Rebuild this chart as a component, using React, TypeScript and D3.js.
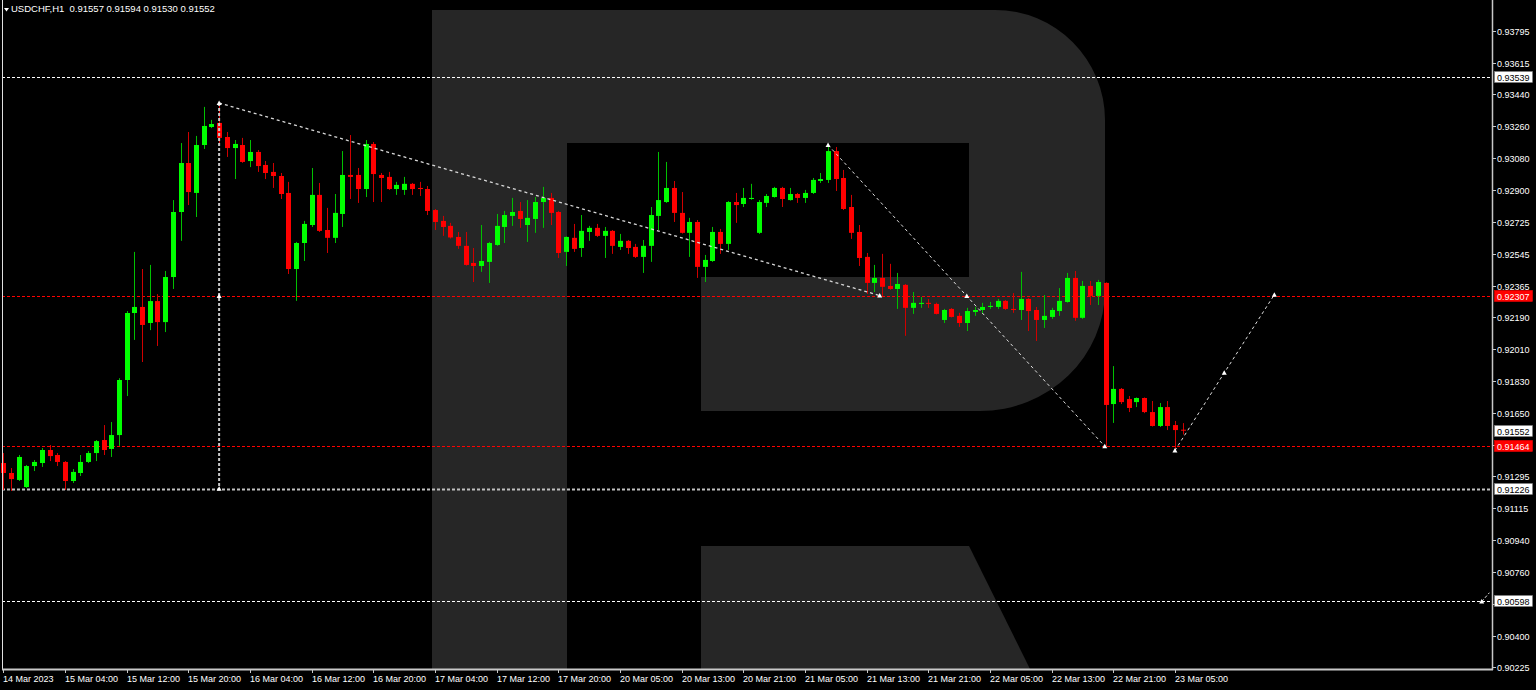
import React from "react";
import * as d3 from "d3";

const symbolTitle = "USDCHF,H1  0.91557 0.91594 0.91530 0.91552";

const opens = [0.91370,0.91314,0.91275,0.91235,0.91353,0.91370,0.91443,0.91415,0.91376,0.91269,0.91314,0.91376,0.91426,0.91499,0.91449,0.91527,0.91836,0.92212,0.92246,0.92156,0.92279,0.92161,0.92414,0.92779,0.93054,0.92886,0.93155,0.93256,0.93279,0.93200,0.93138,0.93155,0.93065,0.93116,0.93043,0.93004,0.92981,0.92886,0.92459,0.92605,0.92706,0.92875,0.92678,0.92634,0.92768,0.92987,0.92987,0.92908,0.93161,0.92987,0.92976,0.92908,0.92903,0.92937,0.92914,0.92908,0.92790,0.92729,0.92701,0.92639,0.92589,0.92493,0.92476,0.92499,0.92594,0.92695,0.92757,0.92785,0.92706,0.92740,0.92835,0.92858,0.92779,0.92555,0.92634,0.92577,0.92667,0.92690,0.92645,0.92673,0.92583,0.92617,0.92583,0.92527,0.92589,0.92757,0.92835,0.92914,0.92774,0.92662,0.92723,0.92471,0.92504,0.92667,0.92600,0.92835,0.92824,0.92852,0.92662,0.92830,0.92863,0.92914,0.92846,0.92880,0.92858,0.92886,0.92953,0.92959,0.93121,0.92970,0.92807,0.92667,0.92527,0.92381,0.92409,0.92364,0.92347,0.92370,0.92241,0.92263,0.92269,0.92263,0.92173,0.92235,0.92196,0.92156,0.92218,0.92229,0.92246,0.92246,0.92280,0.92235,0.92229,0.92291,0.92229,0.92173,0.92190,0.92223,0.92274,0.92409,0.92185,0.92364,0.92308,0.92381,0.91701,0.91786,0.91729,0.91712,0.91735,0.91656,0.91578,0.91684,0.91583,0.91557];
const highs = [0.91426,0.91342,0.91415,0.91359,0.91387,0.91454,0.91471,0.91426,0.91381,0.91336,0.91415,0.91437,0.91499,0.91583,0.91600,0.91846,0.92223,0.92555,0.92459,0.92482,0.92318,0.92448,0.92846,0.93166,0.93228,0.93206,0.93369,0.93296,0.93391,0.93228,0.93183,0.93195,0.93183,0.93127,0.93065,0.93054,0.92998,0.92948,0.92611,0.92729,0.93026,0.92942,0.92802,0.92880,0.93121,0.93211,0.93026,0.93183,0.93172,0.92998,0.93004,0.92948,0.92976,0.92942,0.92948,0.92925,0.92796,0.92757,0.92718,0.92667,0.92667,0.92577,0.92706,0.92611,0.92768,0.92785,0.92858,0.92835,0.92846,0.92863,0.92920,0.92886,0.92785,0.92642,0.92712,0.92762,0.92701,0.92712,0.92695,0.92678,0.92656,0.92622,0.92600,0.92622,0.92807,0.93116,0.93060,0.92953,0.92891,0.92746,0.92734,0.92538,0.92695,0.92684,0.92840,0.92886,0.92914,0.92937,0.92846,0.92880,0.92920,0.92920,0.92914,0.92886,0.92903,0.92970,0.92998,0.93155,0.93144,0.93015,0.92875,0.92706,0.92549,0.92482,0.92544,0.92488,0.92437,0.92375,0.92330,0.92302,0.92291,0.92270,0.92235,0.92240,0.92213,0.92241,0.92246,0.92269,0.92274,0.92291,0.92285,0.92324,0.92443,0.92296,0.92246,0.92313,0.92241,0.92352,0.92437,0.92448,0.92392,0.92392,0.92398,0.92384,0.91914,0.91791,0.91746,0.91738,0.91738,0.91718,0.91707,0.91718,0.91606,0.91594];
const lows = [0.91219,0.91213,0.91269,0.91230,0.91325,0.91348,0.91381,0.91353,0.91219,0.91258,0.91297,0.91370,0.91381,0.91415,0.91404,0.91466,0.91746,0.92061,0.91937,0.92116,0.92027,0.92105,0.92347,0.92617,0.92818,0.92751,0.93133,0.93250,0.93166,0.93088,0.92964,0.93055,0.93031,0.93004,0.92964,0.92914,0.92852,0.92431,0.92280,0.92504,0.92695,0.92667,0.92549,0.92605,0.92695,0.92852,0.92830,0.92863,0.92835,0.92835,0.92903,0.92875,0.92875,0.92875,0.92869,0.92762,0.92678,0.92645,0.92630,0.92572,0.92478,0.92386,0.92443,0.92381,0.92589,0.92605,0.92701,0.92690,0.92611,0.92662,0.92690,0.92706,0.92521,0.92476,0.92555,0.92527,0.92617,0.92639,0.92521,0.92544,0.92566,0.92544,0.92521,0.92437,0.92499,0.92678,0.92830,0.92723,0.92658,0.92527,0.92409,0.92386,0.92499,0.92544,0.92566,0.92718,0.92807,0.92848,0.92656,0.92807,0.92860,0.92807,0.92843,0.92830,0.92830,0.92880,0.92942,0.92942,0.92897,0.92790,0.92628,0.92476,0.92319,0.92330,0.92308,0.92342,0.92235,0.92084,0.92207,0.92241,0.92241,0.92204,0.92156,0.92187,0.92134,0.92111,0.92196,0.92207,0.92235,0.92235,0.92229,0.92213,0.92173,0.92111,0.92055,0.92128,0.92179,0.92196,0.92270,0.92168,0.92179,0.92257,0.92257,0.91464,0.91595,0.91701,0.91656,0.91684,0.91650,0.91575,0.91572,0.91555,0.91432,0.91530];
const closes = [0.91314,0.91280,0.91404,0.91353,0.91376,0.91443,0.91409,0.91376,0.91269,0.91320,0.91376,0.91426,0.91493,0.91443,0.91527,0.91836,0.92212,0.92246,0.92145,0.92279,0.92161,0.92414,0.92779,0.93054,0.92891,0.93155,0.93262,0.93273,0.93195,0.93138,0.93161,0.93060,0.93116,0.93037,0.92998,0.92981,0.92880,0.92459,0.92605,0.92712,0.92875,0.92673,0.92634,0.92774,0.92987,0.92976,0.92908,0.93161,0.92992,0.92970,0.92908,0.92931,0.92937,0.92908,0.92908,0.92785,0.92723,0.92695,0.92636,0.92589,0.92482,0.92476,0.92504,0.92605,0.92701,0.92762,0.92779,0.92740,0.92746,0.92835,0.92858,0.92774,0.92549,0.92639,0.92572,0.92673,0.92690,0.92645,0.92673,0.92589,0.92617,0.92577,0.92527,0.92589,0.92762,0.92846,0.92914,0.92774,0.92662,0.92723,0.92471,0.92510,0.92667,0.92600,0.92835,0.92818,0.92858,0.92858,0.92835,0.92869,0.92914,0.92852,0.92880,0.92858,0.92886,0.92959,0.92964,0.93121,0.92964,0.92796,0.92662,0.92521,0.92381,0.92409,0.92359,0.92347,0.92375,0.92241,0.92269,0.92269,0.92263,0.92207,0.92229,0.92190,0.92156,0.92223,0.92229,0.92246,0.92252,0.92280,0.92235,0.92229,0.92291,0.92223,0.92173,0.92196,0.92229,0.92280,0.92409,0.92185,0.92364,0.92308,0.92386,0.91696,0.91786,0.91712,0.91679,0.91735,0.91656,0.91578,0.91684,0.91578,0.91555,0.91552];

// time axis: bar index -> label
const timeTickIdx = [0, 8, 16, 24, 32, 40, 48, 56, 64, 72, 80, 88, 96, 104, 112, 120, 128, 136, 144, 152];
const timeTickLabels = ["14 Mar 2023","15 Mar 04:00","15 Mar 12:00","15 Mar 20:00","16 Mar 04:00","16 Mar 12:00","16 Mar 20:00","17 Mar 04:00","17 Mar 12:00","17 Mar 20:00","20 Mar 05:00","20 Mar 13:00","20 Mar 21:00","21 Mar 05:00","21 Mar 13:00","21 Mar 21:00","22 Mar 05:00","22 Mar 13:00","22 Mar 21:00","23 Mar 05:00"];

// price axis ticks (labels hidden under level boxes are marks only)
const priceTicks = [0.93795,0.93615,0.93440,0.93260,0.93080,0.92900,0.92725,0.92545,0.92365,0.92190,0.92010,0.91830,0.91650,0.91470,0.91295,0.91115,0.90940,0.90760,0.90580,0.90400,0.90225];
const hiddenTickLabels = [0.91470, 0.90580];

// horizontal levels
const levelPrices = [0.93539, 0.92307, 0.91464, 0.91226, 0.90598];
const levelKinds = ["white", "red", "red", "gray", "white"];
const currentPrice = 0.91552;

// analysis lines: [barIndex, price]
const trendLine1 = [[28, 0.93391], [113.7, 0.92310]];
const verticalLine = [[28, 0.93391], [28, 0.91226]];
const verticalMid = [28, 0.92307];
const trendLine2 = [[107, 0.93155], [125, 0.92307], [142.9, 0.91464]];
const forecastLine = [[152, 0.91440], [158.4, 0.91876], [164.9, 0.92315]];
const tinyLine = [[191.8, 0.90592], [192.8, 0.90642]];

const W = 1536, H = 690;
const plotRight = 1493;
const plotBottom = 669;

export default function App() {
  const x = d3.scaleLinear().domain([0, 153]).range([3.3, 3.3 + 153 * 7.708]);
  const y = d3.scaleLinear().domain([0.93795, 0.90225]).range([31, 667]);
  const font = "'Liberation Sans', Arial, sans-serif";
  const line = d3.line<number[]>().x((d) => x(d[0])).y((d) => y(d[1]));

  const bars = opens.map((o, i) => ({ i, o, h: highs[i], l: lows[i], c: closes[i] }));

  const marker = (px: number, py: number, key: string) => (
    <path key={key} d={`M${px - 2.5},${py + 2} L${px},${py - 2.5} L${px + 2.5},${py + 2} Z`} fill="#ffffff" />
  );

  const wm = "#262626";
  const bowl = `M567,10 H995 A110,110 0 0 1 1105,120 V290 A125,121 0 0 1 980,411 H701 V277 H969 V143 H567 Z`;

  const levelColor = (k: string) => (k === "red" ? "#ff0000" : k === "gray" ? "#c0c0c0" : "#ffffff");

  return (
    <svg width={W} height={H} style={{ position: "absolute", left: 0, top: 0, display: "block" }} fontFamily={font}>
      <rect x={0} y={0} width={W} height={H} fill="#000000" />
      {/* watermark */}
      <rect x={432} y={10} width={135} height={659} fill={wm} />
      <path d={bowl} fill={wm} />
      <path d="M701,546 H969 L1030,669 H701 Z" fill={wm} />

      {/* horizontal levels */}
      {levelPrices.map((p, k) => (
        <line key={"lv" + k} x1={2} x2={plotRight} y1={Math.round(y(p)) + 0.5} y2={Math.round(y(p)) + 0.5}
          stroke={levelColor(levelKinds[k])} strokeWidth={levelKinds[k] === "gray" ? 2 : 1} strokeDasharray="3,2" />
      ))}

      {/* candles */}
      {bars.map((b) => {
        const cx = Math.round(x(b.i));
        const up = b.c >= b.o;
        const body = up ? "#00ff00" : "#ff0000";
        const wick = up ? "#00c000" : "#d00000";
        const yt = y(Math.max(b.o, b.c));
        const yb = y(Math.min(b.o, b.c));
        const bh = Math.max(1, yb - yt);
        return (
          <g key={"c" + b.i}>
            <line x1={cx + 0.5} x2={cx + 0.5} y1={y(b.h)} y2={y(b.l)} stroke={wick} strokeWidth={1} />
            <rect x={cx - 2} y={yt} width={5} height={bh} fill={body} />
          </g>
        );
      })}

      {/* analysis lines */}
      <path d={line(trendLine1 as any) || ""} fill="none" stroke="#d8d8d8" strokeWidth={1.3} strokeDasharray="3,3" />
      <path d={line(verticalLine as any) || ""} fill="none" stroke="#c8c8c8" strokeWidth={2} strokeDasharray="3,2" />
      <path d={line(trendLine2 as any) || ""} fill="none" stroke="#e0e0e0" strokeWidth={1} strokeDasharray="3,3" />
      <path d={line(forecastLine as any) || ""} fill="none" stroke="#e0e0e0" strokeWidth={1} strokeDasharray="3,3" />
      <path d={line(tinyLine as any) || ""} fill="none" stroke="#e0e0e0" strokeWidth={1} strokeDasharray="3,2" />
      {marker(x(trendLine1[0][0]), y(trendLine1[0][1]), "m1")}
      {marker(x(trendLine1[1][0]), y(trendLine1[1][1]), "m2")}
      {marker(x(verticalMid[0]), y(verticalMid[1]), "m3")}
      {marker(x(verticalLine[1][0]), y(verticalLine[1][1]), "m4")}
      {trendLine2.map((p, k) => marker(x(p[0]), y(p[1]), "t2" + k))}
      {forecastLine.map((p, k) => marker(x(p[0]), y(p[1]), "fc" + k))}
      {marker(x(tinyLine[0][0]), y(tinyLine[0][1]), "tl")}

      {/* frame */}
      <line x1={2.5} x2={2.5} y1={0} y2={plotBottom} stroke="#e0e0e0" strokeWidth={1} />
      <line x1={plotRight - 0.5} x2={plotRight - 0.5} y1={0} y2={plotBottom + 1} stroke="#c8c8c8" strokeWidth={1.5} />
      <line x1={2} x2={plotRight} y1={plotBottom + 0.5} y2={plotBottom + 0.5} stroke="#c8c8c8" strokeWidth={2} />

      {/* time axis */}
      {timeTickIdx.map((ti, k) => {
        const tx = Math.round(x(ti)) + 0.5;
        return (
          <g key={"tt" + k}>
            <line x1={tx} x2={tx} y1={plotBottom} y2={plotBottom + 4} stroke="#c8c8c8" strokeWidth={1} />
            <text x={tx - 0.5} y={682} fontSize={9} fill="#ffffff">{timeTickLabels[k]}</text>
          </g>
        );
      })}

      {/* price axis */}
      {priceTicks.map((p, k) => {
        const py = Math.round(y(p)) + 0.5;
        const hidden = hiddenTickLabels.includes(p);
        return (
          <g key={"pt" + k}>
            <line x1={plotRight} x2={plotRight + 3} y1={py} y2={py} stroke="#c8c8c8" strokeWidth={1} />
            {!hidden && <text x={1497} y={py + 3.5} fontSize={9} fill="#ffffff">{p.toFixed(5)}</text>}
          </g>
        );
      })}

      {/* price boxes */}
      {[...levelPrices.map((p, k) => ({ p, kind: levelKinds[k] })), { p: currentPrice, kind: "cur" }].map((b, k) => {
        const py = Math.round(y(b.p));
        const red = b.kind === "red";
        return (
          <g key={"bx" + k}>
            <rect x={1494.5} y={py - 5.5} width={38} height={11} fill={red ? "#ff0000" : "#ffffff"} stroke={red ? "#ff0000" : "#808080"} strokeWidth={0.5} />
            <text x={1497} y={py + 3.5} fontSize={9} fill={red ? "#ffffff" : "#000000"}>{b.p.toFixed(5)}</text>
          </g>
        );
      })}

      {/* title */}
      <path d="M4,8 L9,8 L6.5,11.5 Z" fill="#ffffff" />
      <text x={11} y={12} fontSize={9.5} fill="#ffffff" style={{ whiteSpace: "pre" }}>{symbolTitle}</text>
    </svg>
  );
}
